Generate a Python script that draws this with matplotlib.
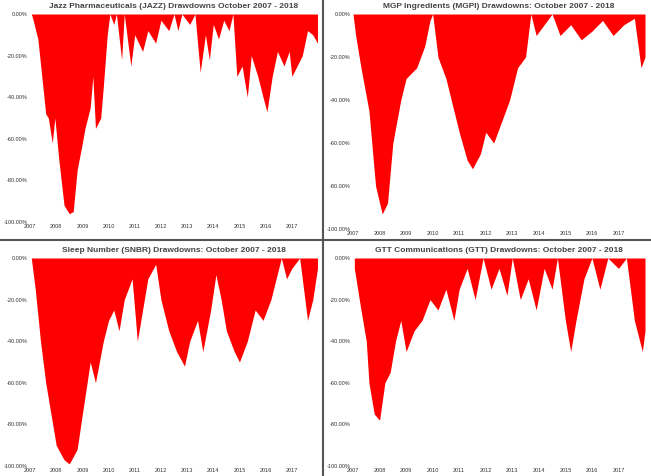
import matplotlib
matplotlib.use("Agg")
import matplotlib.pyplot as plt
from matplotlib.lines import Line2D

plt.rcParams['font.family'] = ['Liberation Sans', 'DejaVu Sans']

jazz_t = [2007.05,2007.1,2007.3,2007.45,2007.6,2007.7,2007.85,2007.95,2008.1,2008.3,2008.5,2008.65,2008.8,2009.0,2009.1,2009.3,2009.4,2009.5,2009.7,2009.8,2009.95,2010.05,2010.2,2010.3,2010.5,2010.6,2010.85,2011.0,2011.3,2011.5,2011.8,2012.0,2012.3,2012.5,2012.65,2012.8,2013.1,2013.3,2013.5,2013.7,2013.85,2014.0,2014.2,2014.4,2014.6,2014.75,2014.9,2015.1,2015.3,2015.45,2015.7,2015.9,2016.05,2016.25,2016.45,2016.7,2016.9,2017.0,2017.2,2017.4,2017.6,2017.8,2017.98]
jazz_v = [0,-2,-12,-30,-48,-50,-62,-50,-70,-92,-96,-95,-75,-62,-55,-45,-30,-55,-50,-35,-10,0,-5,0,-22,0,-25,-10,-18,-8,-14,-3,-8,0,-8,0,-5,0,-28,-10,-22,-5,-12,-3,-8,0,-30,-25,-40,-20,-30,-40,-47,-30,-18,-25,-18,-30,-25,-20,-8,-10,-14]

mgpi_t = [2007.0,2007.1,2007.3,2007.6,2007.85,2008.1,2008.3,2008.5,2008.8,2009.0,2009.4,2009.7,2009.9,2010.0,2010.2,2010.5,2010.8,2011.0,2011.3,2011.5,2011.8,2012.0,2012.3,2012.6,2012.9,2013.2,2013.5,2013.7,2013.9,2014.2,2014.5,2014.8,2015.2,2015.6,2016.0,2016.4,2016.8,2017.2,2017.6,2017.85,2018.0]
mgpi_v = [0,-10,-25,-45,-80,-93,-88,-60,-40,-30,-25,-15,-3,0,-20,-30,-45,-55,-68,-72,-65,-55,-60,-50,-40,-25,-20,0,-10,-5,0,-10,-5,-12,-8,-3,-10,-5,-2,-25,-20]

snbr_t = [2007.05,2007.2,2007.4,2007.6,2007.8,2008.0,2008.3,2008.5,2008.8,2009.0,2009.3,2009.5,2009.8,2010.0,2010.2,2010.4,2010.6,2010.9,2011.1,2011.3,2011.5,2011.8,2012.0,2012.3,2012.6,2012.9,2013.1,2013.4,2013.6,2013.9,2014.1,2014.3,2014.5,2014.8,2015.0,2015.3,2015.6,2015.9,2016.2,2016.5,2016.6,2016.8,2017.0,2017.3,2017.6,2017.8,2017.98]
snbr_v = [0,-15,-40,-60,-75,-90,-97,-99,-92,-75,-50,-60,-40,-30,-25,-35,-20,-10,-40,-25,-10,-3,-20,-35,-45,-52,-40,-30,-45,-25,-8,-20,-35,-45,-50,-40,-25,-30,-20,-5,0,-10,-5,0,-30,-20,-5]

gtt_t = [2007.05,2007.3,2007.5,2007.6,2007.8,2008.0,2008.2,2008.4,2008.6,2008.8,2009.0,2009.3,2009.6,2009.9,2010.2,2010.5,2010.8,2011.0,2011.3,2011.6,2011.9,2012.2,2012.5,2012.8,2013.0,2013.3,2013.6,2013.9,2014.2,2014.5,2014.7,2015.0,2015.2,2015.4,2015.7,2016.0,2016.3,2016.6,2017.0,2017.3,2017.6,2017.9,2018.0]
gtt_v = [-5,-25,-40,-60,-75,-78,-60,-55,-40,-30,-45,-35,-30,-20,-25,-15,-30,-15,-5,-20,0,-15,-5,-18,0,-20,-10,-25,-5,-15,0,-30,-45,-30,-10,0,-15,0,-5,0,-30,-45,-35]

titles = ["Jazz Pharmaceuticals (JAZZ) Drawdowns October 2007 - 2018",
          "MGP Ingredients (MGPI) Drawdowns: October 2007 - 2018",
          "Sleep Number (SNBR) Drawdowns: October 2007 - 2018",
          "GTT Communications (GTT) Drawdowns: October 2007 - 2018"]
years = list(range(2007, 2018))
yticks = [0, -20, -40, -60, -80, -100]

W, H = 651, 476
fig = plt.figure(figsize=(W/100, H/100), dpi=100)
boxes = [(30, 318, 14, 222), (353, 645, 14, 229), (30, 318, 258, 466), (353, 645, 258, 466)]
series = [(jazz_t, jazz_v), (mgpi_t, mgpi_v), (snbr_t, snbr_v), (gtt_t, gtt_v)]
for (x0, x1, y0, y1), (t, v), title in zip(boxes, series, titles):
    ax = fig.add_axes([x0/W, 1-y1/H, (x1-x0)/W, (y1-y0)/H])
    ax.fill_between(t, v, 0, color="#ff0000", linewidth=0)
    ax.set_xlim(2007, 2018)
    ax.set_ylim(-100, 0)
    ax.set_xticks(years)
    ax.set_xticklabels([str(y) for y in years], fontsize=4, color="#333333")
    ax.set_yticks(yticks)
    ax.set_yticklabels([f"{y:.2f}%" for y in yticks], fontsize=4, color="#333333")
    ax.tick_params(length=0, pad=1.5)
    for s in ax.spines.values():
        s.set_visible(False)
    ax.set_title(title, fontsize=6, fontweight="bold", color="#444444", pad=4)

fig.add_artist(Line2D([323/W, 323/W], [0, 1], color="#555555", lw=1.5))
fig.add_artist(Line2D([0, 1], [1-240/H, 1-240/H], color="#555555", lw=1.5))
fig.savefig("out.png", dpi=100)
